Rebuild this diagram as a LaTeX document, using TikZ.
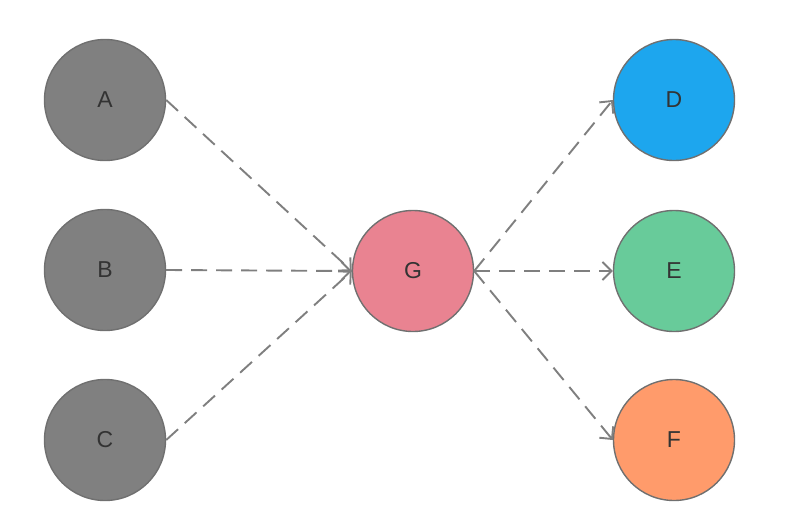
\documentclass[tikz,border=0pt]{standalone}
\usepackage{fontspec}
\setmainfont{Liberation Sans}
\usetikzlibrary{arrows.meta}
\definecolor{nodegray}{HTML}{808080}
\definecolor{bordergray}{HTML}{707070}
\definecolor{edgegray}{HTML}{7F7F7F}
\definecolor{txt}{HTML}{333333}
\definecolor{cD}{HTML}{1DA6EE}
\definecolor{cE}{HTML}{68CB9A}
\definecolor{cF}{HTML}{FF9B6B}
\definecolor{cG}{HTML}{E98391}
\begin{document}
\begin{tikzpicture}[x=1pt,y=-1pt,
  circ/.style={circle,draw=bordergray,line width=1.4pt,minimum size=121pt,inner sep=0pt,text=txt,font=\fontsize{23}{26}\selectfont},
  link/.style={draw=edgegray,line width=1.9pt,dash pattern=on 16pt off 9pt,-{Straight Barb[length=9pt,width=18pt,line width=1.9pt]}}]
\useasboundingbox (0,0) rectangle (792,522);
\node[circ,fill=nodegray] (A) at (105,100) {A};
\node[circ,fill=nodegray] (B) at (105,270) {B};
\node[circ,fill=nodegray] (C) at (105,440) {C};
\node[circ,fill=cG] (G) at (413,271) {G};
\node[circ,fill=cD] (D) at (674,100) {D};
\node[circ,fill=cE] (E) at (674,271) {E};
\node[circ,fill=cF] (F) at (674,440) {F};
\draw[link] (A.east) -- (G.west);
\draw[link] (B.east) -- (G.west);
\draw[link] (C.east) -- (G.west);
\draw[link] (G.east) -- (D.west);
\draw[link] (G.east) -- (E.west);
\draw[link] (G.east) -- (F.west);
\end{tikzpicture}
\end{document}
